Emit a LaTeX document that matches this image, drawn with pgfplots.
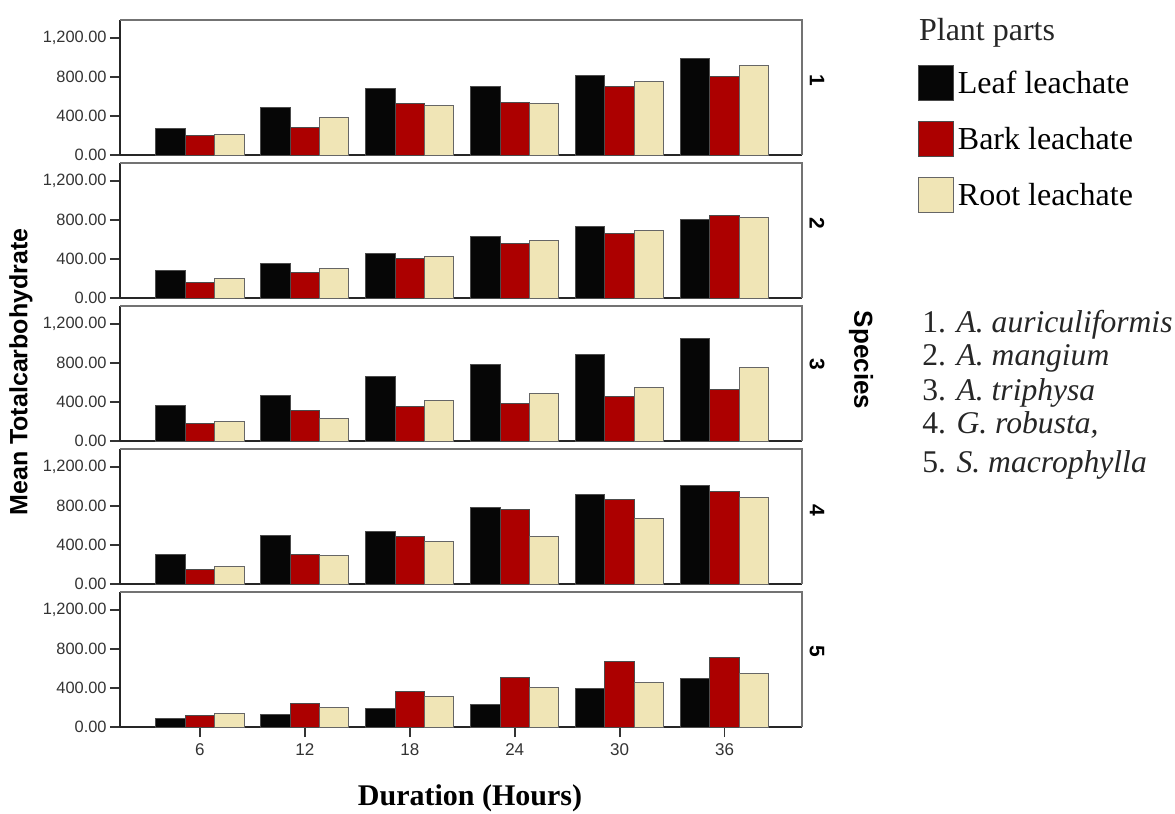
\documentclass[border=0pt]{standalone}
\usepackage{fontspec}
\setmainfont{Liberation Serif}
\setsansfont{Liberation Sans}
\usepackage{pgfplots}
\usepackage{pgfplotstable}
\pgfplotsset{compat=1.18}

\definecolor{leafc}{HTML}{060606}
\definecolor{barkc}{HTML}{AC0000}
\definecolor{rootc}{HTML}{F0E5B6}

% Mean total carbohydrate by duration (0..5 -> 6..36 h) for each species
\pgfplotstableread{
h leaf bark root
0 275 200 210
1 490 285 385
2 680 525 505
3 700 535 530
4 815 700 755
5 990 800 910
}\spA
\pgfplotstableread{
h leaf bark root
0 285 160 200
1 350 265 306
2 452 400 428
3 630 555 585
4 730 660 690
5 805 840 820
}\spB
\pgfplotstableread{
h leaf bark root
0 365 175 195
1 470 315 235
2 655 350 415
3 780 385 490
4 880 450 545
5 1045 530 755
}\spC
\pgfplotstableread{
h leaf bark root
0 300 150 180
1 500 300 290
2 540 490 430
3 780 765 490
4 920 860 665
5 1010 945 880
}\spD
\pgfplotstableread{
h leaf bark root
0 85 120 135
1 125 238 195
2 185 360 310
3 230 510 400
4 390 665 460
5 500 710 545
}\spE

\pgfplotsset{
  panel/.style={
    scale only axis, width=341pt, height=67.5pt,
    anchor=south west,
    xmin=-0.762, xmax=5.738, ymin=0, ymax=1380,
    axis x line*=bottom, axis y line*=left,
    axis line style={-, draw=black!85, line width=0.9pt},
    ytick={0,400,800,1200},
    yticklabels={0.00,400.00,800.00,{1,200.00}},
    tick align=outside, major tick length=5pt,
    tick style={draw=black!80, line width=0.9pt},
    yticklabel style={font=\sffamily\fontsize{8.2}{9}\selectfont, text=black!80, inner xsep=1.5pt},
    xtick=\empty,
    bar width=0.28,
    clip=false,
    after end axis/.code={
      \draw[black!55, line width=0.7pt] (rel axis cs:0,1) -- (rel axis cs:1,1) -- (rel axis cs:1,0);
    },
  },
  leafbar/.style={ybar, bar shift=-0.28, fill=leafc, draw=black!70, line width=0.5pt},
  barkbar/.style={ybar, bar shift=0, fill=barkc, draw=black!70, line width=0.5pt},
  rootbar/.style={ybar, bar shift=0.28, fill=rootc, draw=black!60, line width=0.5pt},
}

\begin{document}
\begin{tikzpicture}
\useasboundingbox (0pt,0pt) rectangle (587.5pt,-407pt);

% species 1
\begin{axis}[panel, at={(60pt,-77.5pt)},
  legend style={draw=none, fill=none, inner sep=0pt, outer sep=0pt,
    at={(axis description cs:1.170,0.6667)}, anchor=north west,
    font=\fontsize{16}{19}\selectfont, row sep=10pt, column sep=0pt,
    cells={anchor=base west}},
  legend image code/.code={\draw[#1] (0pt,-3.5pt) rectangle (17.5pt,14pt);},
]
\addplot[leafbar] table[x=h,y=leaf] {\spA};
\addplot[barkbar] table[x=h,y=bark] {\spA};
\addplot[rootbar] table[x=h,y=root] {\spA};
\legend{Leaf leachate, Bark leachate, Root leachate}
\end{axis}

% species 2
\begin{axis}[panel, at={(60pt,-149pt)}]
\addplot[leafbar] table[x=h,y=leaf] {\spB};
\addplot[barkbar] table[x=h,y=bark] {\spB};
\addplot[rootbar] table[x=h,y=root] {\spB};
\end{axis}

% species 3
\begin{axis}[panel, at={(60pt,-220.5pt)}]
\addplot[leafbar] table[x=h,y=leaf] {\spC};
\addplot[barkbar] table[x=h,y=bark] {\spC};
\addplot[rootbar] table[x=h,y=root] {\spC};
\end{axis}

% species 4
\begin{axis}[panel, at={(60pt,-292pt)}]
\addplot[leafbar] table[x=h,y=leaf] {\spD};
\addplot[barkbar] table[x=h,y=bark] {\spD};
\addplot[rootbar] table[x=h,y=root] {\spD};
\end{axis}

% species 5, with the duration axis
\begin{axis}[panel, at={(60pt,-363.5pt)},
  xtick={0,1,2,3,4,5}, xticklabels={6,12,18,24,30,36},
  xticklabel style={font=\sffamily\fontsize{8.5}{10}\selectfont, text=black!80},
]
\addplot[leafbar] table[x=h,y=leaf] {\spE};
\addplot[barkbar] table[x=h,y=bark] {\spE};
\addplot[rootbar] table[x=h,y=root] {\spE};
\end{axis}

% axis titles
\node[rotate=90, font=\sffamily\bfseries\fontsize{12.5}{14}\selectfont] at (10.5pt,-186pt) {Mean Totalcarbohydrate};
\node[font=\bfseries\fontsize{15}{17}\selectfont] at (235pt,-399pt) {Duration (Hours)};
\node[rotate=-90, font=\sffamily\bfseries\fontsize{13}{15}\selectfont] at (430.5pt,-180pt) {Species};

% panel labels
\foreach \lab/\yy in {1/-40pt, 2/-111.5pt, 3/-182pt, 4/-255pt, 5/-325.5pt}
  \node[rotate=-90, font=\sffamily\bfseries\fontsize{10.5}{12}\selectfont] at (408.5pt,\yy) {\lab};

% legend title and species key
\node[anchor=base west, font=\fontsize{16}{19}\selectfont, text=black!85] at (456pt,-20pt) {Plant parts};
\begin{scope}[every node/.style={anchor=base west, font=\fontsize{15.8}{18}\selectfont, text=black!85, inner sep=0pt}]
\node at (461pt,-166pt) {1. \textit{A. auriculiformis}};
\node at (461pt,-182.5pt) {2. \textit{A. mangium}};
\node at (461pt,-200pt) {3. \textit{A. triphysa}};
\node at (461pt,-216.5pt) {4. \textit{G. robusta,}};
\node at (461pt,-236pt) {5. \textit{S. macrophylla}};
\end{scope}
\end{tikzpicture}
\end{document}
